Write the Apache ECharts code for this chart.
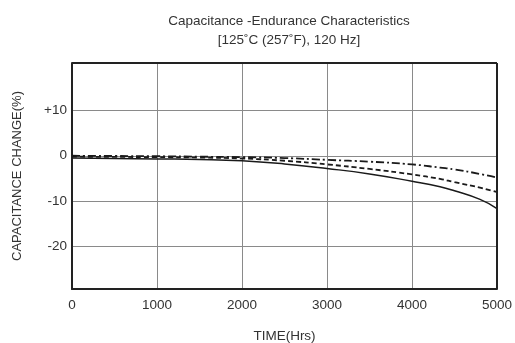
<!DOCTYPE html>
<html><head><meta charset="utf-8">
<script src="https://cdn.jsdelivr.net/npm/echarts@6/dist/echarts.min.js"></script>
<style>html,body{margin:0;padding:0;background:#fff}#c{width:515px;height:343px}</style>
</head><body><div id="c"></div>
<script>
const hours = [0, 500, 1000, 1500, 2000, 2500, 3000, 3500, 4000, 4330, 4500, 4800, 5000];
const solidSeries = [-0.5, -0.6, -0.7, -0.8, -1.1, -1.8, -2.8, -4.0, -5.6, -6.8, -7.7, -9.6, -11.6];
const dashedSeries = [-0.2, -0.25, -0.3, -0.4, -0.6, -1.1, -1.9, -2.9, -4.1, -5.1, -5.8, -7.0, -8.0];
const dashDotSeries = [0.0, -0.05, -0.1, -0.2, -0.3, -0.5, -0.9, -1.3, -1.9, -2.6, -3.0, -4.0, -4.8];
const yTicks = [-20, -10, 0, 10];
const xTicks = [0, 1000, 2000, 3000, 4000, 5000];

const chart = echarts.init(document.getElementById('c'));
const ff = '"Liberation Sans", Arial, sans-serif';
function pairs(v){ return hours.map((h,i)=>[h, v[i]]); }
const lineCol = '#1a1a1a';
chart.setOption({
  animation: false,
  title: {
    text: 'Capacitance -Endurance Characteristics\n[125˚C (257˚F), 120 Hz]',
    left: 284, top: 7, textAlign: 'center',
    textStyle: {fontFamily: ff, fontSize: 13.5, fontWeight: 'normal', color: '#333', lineHeight: 19}
  },
  grid: {left: 72, right: 18, top: 63, bottom: 54, outerBoundsMode: 'none', containLabel: false},
  xAxis: {
    type: 'value', min: 0, max: 5000, interval: 1000,
    name: 'TIME(Hrs)', nameLocation: 'middle', nameGap: 40,
    nameTextStyle: {fontFamily: ff, fontSize: 13.5, color: '#333'},
    axisLine: {show: true, onZero: false, lineStyle: {color: '#222', width: 2}},
    axisTick: {show: false},
    axisLabel: {fontFamily: ff, fontSize: 13.5, color: '#333', margin: 9,
      customValues: xTicks, formatter: v => String(v)},
    splitLine: {show: true, lineStyle: {color: '#8a8a8a', width: 1}}
  },
  yAxis: {
    type: 'value', min: -29.3, max: 20.4,
    name: 'CAPACITANCE CHANGE(%)', nameLocation: 'middle', nameGap: 48,
    nameTextStyle: {fontFamily: ff, fontSize: 13, color: '#333'},
    axisLine: {show: true, onZero: false, lineStyle: {color: '#222', width: 2}},
    axisTick: {show: false, customValues: yTicks},
    axisLabel: {fontFamily: ff, fontSize: 13.5, color: '#333', margin: 5,
      customValues: yTicks,
      formatter: v => (v > 0 ? '+' + v : String(v))},
    splitLine: {show: true, lineStyle: {color: '#8a8a8a', width: 1}}
  },
  series: [
    {type: 'line', data: pairs(solidSeries), smooth: true, symbol: 'none',
     lineStyle: {color: lineCol, width: 1.5, type: 'solid'}},
    {type: 'line', data: pairs(dashedSeries), smooth: true, symbol: 'none',
     lineStyle: {color: lineCol, width: 1.8, type: [5, 3]}},
    {type: 'line', data: pairs(dashDotSeries), smooth: true, symbol: 'none',
     lineStyle: {color: lineCol, width: 1.8, type: [8, 3, 2, 3]}},
    {type: 'line', data: [], markLine: {silent: true, symbol: 'none', label: {show: false},
      lineStyle: {color: '#222', width: 2, type: 'solid'},
      data: [[{coord: [0, 20.4]}, {coord: [5000, 20.4]}], [{coord: [5000, -29.3]}, {coord: [5000, 20.4]}]]}}
  ]
});
</script></body></html>
